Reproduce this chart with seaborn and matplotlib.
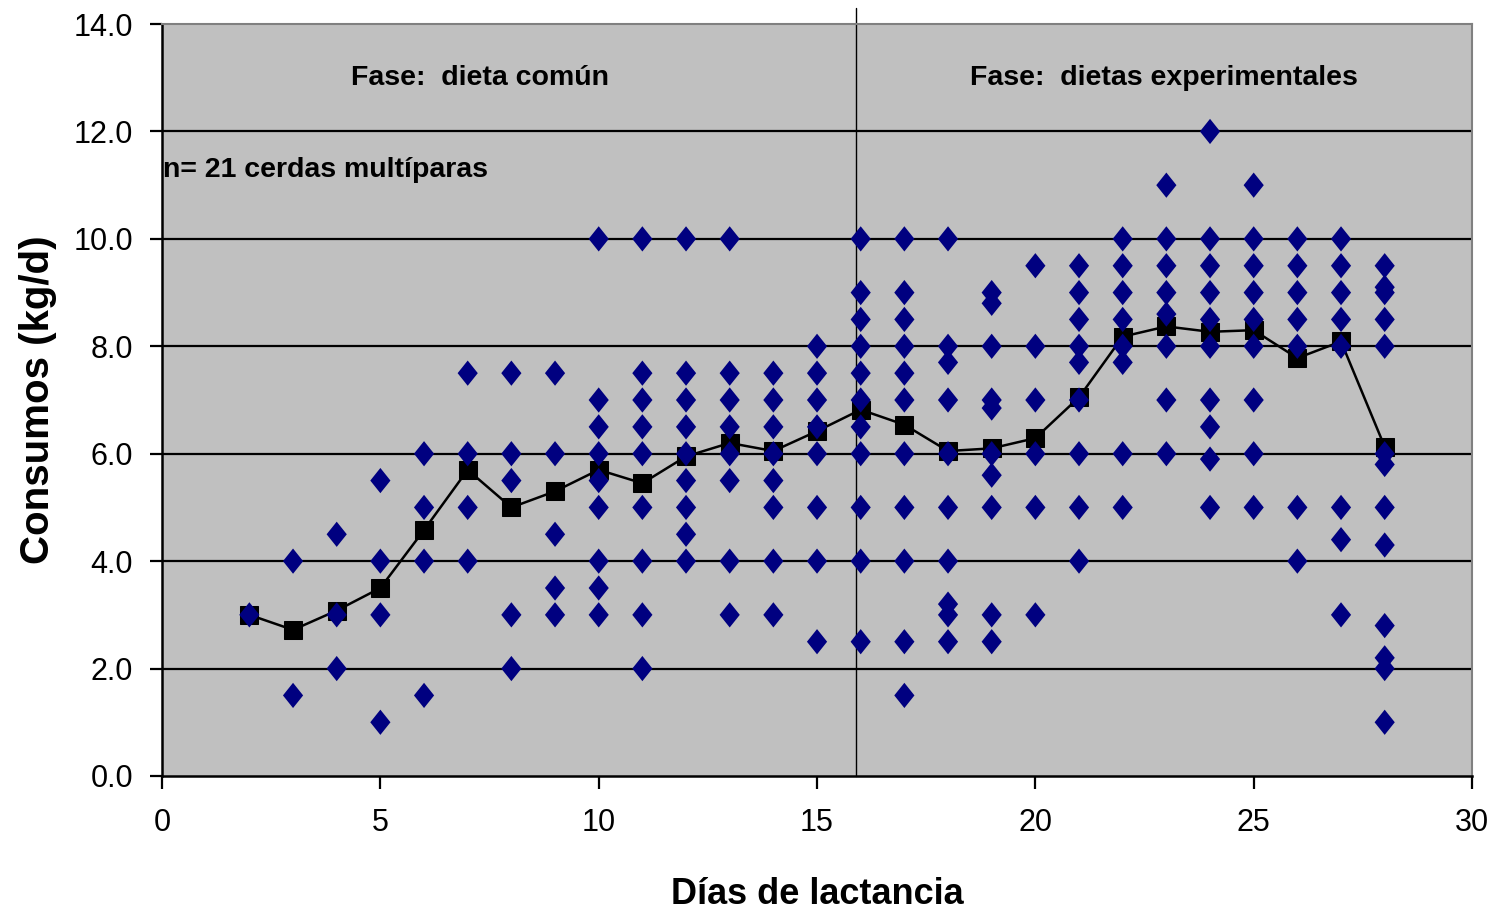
import numpy as np
import pandas as pd
import matplotlib
matplotlib.use("Agg")
import matplotlib.pyplot as plt
import seaborn as sns

# consumo diario por cerda (kg/d), un valor por punto visible en el grafico
dias = list(range(2, 29))
consumos = [
    [3.0],                                                        # 2
    [4.0, 1.5],                                                   # 3
    [4.5, 3.0, 2.0],                                              # 4
    [5.5, 4.0, 3.0, 1.0],                                         # 5
    [6.0, 5.0, 4.0, 1.5],                                         # 6
    [7.5, 6.0, 5.0, 4.0],                                         # 7
    [7.5, 6.0, 5.5, 3.0, 2.0],                                    # 8
    [7.5, 6.0, 4.5, 3.5, 3.0],                                    # 9
    [10.0, 7.0, 6.5, 6.0, 5.5, 5.0, 4.0, 3.5, 3.0],               # 10
    [10.0, 7.5, 7.0, 6.5, 6.0, 5.0, 4.0, 3.0, 2.0],               # 11
    [10.0, 7.5, 7.0, 6.5, 6.0, 5.5, 5.0, 4.5, 4.0],               # 12
    [10.0, 7.5, 7.0, 6.5, 6.0, 5.5, 4.0, 3.0],                    # 13
    [7.5, 7.0, 6.5, 6.0, 5.5, 5.0, 4.0, 3.0],                     # 14
    [8.0, 7.5, 7.0, 6.5, 6.0, 5.0, 4.0, 2.5],                     # 15
    [10.0, 9.0, 8.5, 8.0, 7.5, 7.0, 6.5, 6.0, 5.0, 4.0, 2.5],     # 16
    [10.0, 9.0, 8.5, 8.0, 7.5, 7.0, 6.0, 5.0, 4.0, 2.5, 1.5],     # 17
    [10.0, 8.0, 7.7, 7.0, 6.0, 5.0, 4.0, 3.2, 3.0, 2.5],          # 18
    [9.0, 8.8, 8.0, 7.0, 6.85, 6.0, 5.6, 5.0, 3.0, 2.5],          # 19
    [9.5, 8.0, 7.0, 6.0, 5.0, 3.0],                               # 20
    [9.5, 9.0, 8.5, 8.0, 7.7, 7.0, 6.0, 5.0, 4.0],                # 21
    [10.0, 9.5, 9.0, 8.5, 8.0, 7.7, 6.0, 5.0],                    # 22
    [11.0, 10.0, 9.5, 9.0, 8.6, 8.0, 7.0, 6.0],                   # 23
    [12.0, 10.0, 9.5, 9.0, 8.5, 8.0, 7.0, 6.5, 5.9, 5.0],         # 24
    [11.0, 10.0, 9.5, 9.0, 8.5, 8.0, 7.0, 6.0, 5.0],              # 25
    [10.0, 9.5, 9.0, 8.5, 8.0, 5.0, 4.0],                         # 26
    [10.0, 9.5, 9.0, 8.5, 8.0, 5.0, 4.4, 3.0],                    # 27
    [9.5, 9.1, 9.0, 8.5, 8.0, 6.0, 5.8, 5.0, 4.3, 2.8, 2.2, 2.0, 1.0],  # 28
]
# promedio diario (cuadros negros)
promedios = [3.0, 2.72, 3.08, 3.5, 4.58, 5.7, 5.0, 5.3, 5.7, 5.45, 5.95, 6.2,
             6.05, 6.42, 6.82, 6.54, 6.05, 6.1, 6.29, 7.05, 8.18, 8.37, 8.27,
             8.3, 7.78, 8.09, 6.13]

cambio_fase = 15.9

obs = pd.DataFrame(
    [(d, v) for d, vals in zip(dias, consumos) for v in vals],
    columns=["Dia", "Consumo"])
medias = pd.DataFrame({"Dia": dias, "Consumo": promedios})

sns.set_style("white")
plt.rcParams["font.family"] = ["Liberation Sans", "DejaVu Sans"]
plt.rcParams["text.color"] = "black"
plt.rcParams["axes.labelcolor"] = "black"
plt.rcParams["xtick.color"] = "black"
plt.rcParams["ytick.color"] = "black"

fig = plt.figure(figsize=(14.99, 9.14), dpi=100)
ax = fig.add_axes([0.1081, 0.151, 0.8739, 0.8227])
ax.set_facecolor("#C0C0C0")

# linea de promedios
sns.lineplot(data=medias, x="Dia", y="Consumo", ax=ax, color="black",
             linewidth=1.8, marker="s", markersize=13, markeredgecolor="black",
             markerfacecolor="black", zorder=3)

# diamantes individuales
diamante = [(0, 1), (0.8, 0), (0, -1), (-0.8, 0), (0, 1)]
sns.scatterplot(data=obs, x="Dia", y="Consumo", ax=ax, marker=diamante,
                s=330, color="#000080", edgecolor="none", linewidth=0,
                zorder=4)

ax.set_xlim(0, 30)
ax.set_ylim(0, 14)
ax.set_xticks(range(0, 31, 5))
ax.set_yticks(np.arange(0, 14.1, 2))
ax.set_yticklabels([f"{v:.1f}" for v in np.arange(0, 14.1, 2)])

for yv in range(2, 13, 2):
    ax.axhline(yv, color="black", linewidth=1.6, zorder=1)

ax.plot([cambio_fase, cambio_fase], [0, 14.3], color="black", linewidth=1.0,
        clip_on=False, zorder=2)

for side in ["left", "bottom"]:
    ax.spines[side].set_color("black")
    ax.spines[side].set_linewidth(1.8)
for side in ["top", "right"]:
    ax.spines[side].set_color("#808080")
    ax.spines[side].set_linewidth(1.5)

ax.tick_params(axis="both", which="major", direction="out", length=9,
               width=1.6, color="black", labelsize=22, left=True, bottom=True)
ax.tick_params(axis="x", pad=14)
ax.tick_params(axis="y", pad=12)

ax.set_xlabel("Días de lactancia", fontsize=26, fontweight="bold", labelpad=28)
ax.set_ylabel("Consumos (kg/d)", fontsize=29, fontweight="bold", labelpad=12)

ax.text(7.28, 13.0, "Fase:  dieta común", fontsize=20.5, fontweight="bold",
        ha="center", va="center")
ax.text(22.95, 13.0, "Fase:  dietas experimentales", fontsize=20.5,
        fontweight="bold", ha="center", va="center")
ax.text(0.02, 11.28, "n= 21 cerdas multíparas", fontsize=20.5,
        fontweight="bold", ha="left", va="center")

fig.savefig("out.png", dpi=100)
